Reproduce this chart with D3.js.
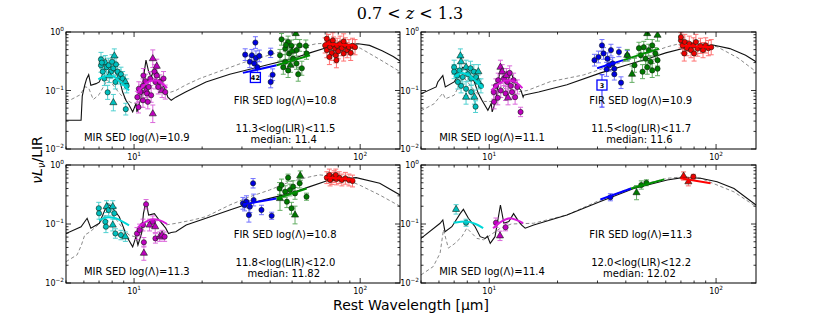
<!DOCTYPE html>
<html><head><meta charset="utf-8">
<script src="https://cdn.jsdelivr.net/npm/d3@7"></script>
<style>body{margin:0;background:#fff}svg{display:block}</style>
</head><body>
<svg id="c" width="822" height="319"></svg>
<script>
// ---------------- DATA ----------------
const xDomain = [5, 150];
const yDomain = [0.01, 1];
const xMajor = [10, 100];
const xMinor = [5,6,7,8,9,20,30,40,50,60,70,80,90];
const yMajor = [0.01, 0.1, 1];
const yMinor = [0.02,0.03,0.04,0.05,0.06,0.07,0.08,0.09,0.2,0.3,0.4,0.5,0.6,0.7,0.8,0.9];
const xTickExp = ["1","2"];
const yTickExp = ["-2","-1","0"];

const title = "0.7 < z < 1.3";
const mirLambda = ["10.9","11.1","11.3","11.4"];
const firLambda = ["10.8","10.9","10.8","11.3"];
const lirRange = ["11.3<log(LIR)<11.5","11.5<log(LIR)<11.7","11.8<log(LIR)<12.0","12.0<log(LIR)<12.2"];
const lirMedian = ["11.4","11.6","11.82","12.02"];

// templates [lambda, nuLnu/LIR]
const solid_A = [[5.0,0.031],[5.83,0.031],[5.9,0.08],[6.05,0.123],[6.17,0.159],[6.3,0.186],[6.44,0.123],[6.79,0.131],[7.02,0.14],[7.3,0.2],[7.64,0.27],[8.0,0.24],[8.3,0.2],[8.6,0.159],[8.9,0.094],[9.2,0.068],[9.52,0.056],[9.86,0.043],[10.2,0.06],[10.3,0.043],[10.7,0.072],[11.1,0.21],[11.29,0.33],[11.6,0.21],[11.9,0.17],[12.3,0.236],[12.7,0.2],[13.2,0.14],[13.8,0.10],[14.1,0.077],[14.6,0.068],[15.3,0.077],[16.9,0.094],[20.8,0.14],[26.5,0.19],[32.5,0.23],[39.8,0.28],[48.9,0.34],[59.9,0.44],[72,0.55],[85,0.61],[98,0.63],[110,0.59],[125,0.48],[140,0.38],[150,0.32]];
const dashed_A = [[5.0,0.063],[5.76,0.084],[6.08,0.116],[6.3,0.11],[6.6,0.07],[7.0,0.085],[7.6,0.15],[8.0,0.13],[8.6,0.09],[9.2,0.07],[9.7,0.062],[10.3,0.06],[10.8,0.07],[11.3,0.13],[11.8,0.11],[12.6,0.14],[13.3,0.1],[13.8,0.088],[15.3,0.1],[16.9,0.124],[19.5,0.16],[30.4,0.30],[45.5,0.47],[64,0.63],[81,0.66],[100,0.53],[122,0.34],[150,0.21]];
const solid_B = [[5.0,0.088],[5.83,0.115],[5.93,0.14],[6.24,0.18],[6.4,0.115],[7.0,0.14],[7.64,0.25],[8.0,0.22],[8.6,0.14],[8.9,0.094],[9.2,0.072],[9.86,0.046],[10.2,0.06],[10.3,0.043],[10.7,0.068],[11.0,0.16],[11.29,0.27],[11.6,0.16],[12.0,0.14],[12.5,0.2],[13.0,0.13],[13.8,0.10],[14.1,0.077],[14.2,0.083],[14.8,0.086],[16.5,0.094],[22,0.125],[31,0.2],[40,0.27],[50,0.35],[60,0.44],[75,0.55],[97,0.60],[115,0.52],[135,0.40],[150,0.31]];
const dashed_B = [[5.0,0.045],[5.7,0.059],[6.13,0.083],[6.25,0.09],[6.4,0.072],[7.0,0.083],[7.7,0.17],[8.6,0.1],[9.5,0.065],[10.5,0.065],[11.3,0.12],[12.0,0.1],[12.7,0.13],[13.5,0.095],[14.7,0.10],[18.6,0.142],[26.0,0.184],[43.3,0.355],[61.1,0.56],[71.9,0.66],[101,0.56],[125,0.36],[150,0.21]];
const solid_C = [[5.0,0.069],[5.83,0.09],[6.2,0.125],[6.44,0.085],[7.02,0.103],[7.64,0.224],[8.0,0.19],[8.6,0.133],[9.0,0.085],[9.2,0.065],[9.86,0.041],[10.2,0.061],[10.4,0.044],[10.8,0.07],[11.0,0.15],[11.29,0.24],[11.6,0.142],[12.3,0.15],[12.9,0.117],[13.8,0.085],[14.2,0.069],[14.6,0.072],[15.3,0.074],[17.0,0.096],[20.8,0.125],[26.5,0.173],[32.5,0.224],[39.8,0.272],[48.9,0.33],[59.9,0.43],[73,0.557],[96,0.61],[122,0.49],[150,0.31]];
const dashed_C = [[5.0,0.023],[5.6,0.03],[5.85,0.044],[6.05,0.065],[6.4,0.074],[7.0,0.1],[7.64,0.16],[8.2,0.13],[8.8,0.09],[9.5,0.065],[10.2,0.06],[10.8,0.07],[11.3,0.11],[12.0,0.1],[12.7,0.12],[13.3,0.1],[13.74,0.096],[15.4,0.103],[18.2,0.117],[20.8,0.133],[26.5,0.21],[32.5,0.29],[39.8,0.377],[48.9,0.52],[59.9,0.63],[66,0.68],[81,0.63],[99,0.46],[122,0.31],[150,0.2]];
const solid_D = [[5.0,0.057],[6.07,0.103],[6.24,0.117],[6.38,0.074],[6.84,0.09],[7.44,0.15],[7.69,0.177],[8.09,0.125],[8.66,0.09],[9.12,0.061],[9.6,0.057],[9.82,0.062],[10.1,0.047],[10.6,0.061],[11.2,0.21],[11.6,0.103],[12.2,0.11],[12.8,0.15],[13.5,0.11],[13.9,0.096],[14.4,0.085],[15.7,0.096],[22.0,0.142],[30.9,0.24],[43.4,0.40],[60.9,0.557],[72.1,0.617],[85.5,0.595],[101,0.52],[120,0.40],[150,0.21]];
const dashed_D = [[5.0,0.0137],[5.66,0.019],[6.07,0.032],[6.28,0.08],[6.6,0.039],[7.06,0.047],[7.57,0.061],[7.96,0.085],[8.82,0.057],[9.43,0.054],[11.2,0.085],[12.5,0.1],[15.7,0.103],[22.0,0.142],[30.9,0.255],[43.4,0.43],[60.9,0.595],[72.1,0.63],[85.5,0.595],[120,0.35],[150,0.197]];

// fitted segments
const cyanFit_A = [[6.95,0.155],[7.5,0.175],[8.0,0.175],[8.6,0.145],[9.2,0.115],[9.5,0.1]];
const magentaFit_A = [[10.3,0.09],[11.0,0.12],[11.8,0.145],[12.5,0.15],[13.2,0.135],[14.0,0.11]];
const blueFit_A = [[30.3,0.20],[42.7,0.27]];
const greenFit_A = [[42.7,0.27],[60,0.40]];
const redFit_A = [[69.7,0.63],[94.6,0.59]];
const cyanFit_B = [[7.0,0.17],[7.6,0.2],[8.2,0.18],[8.8,0.14],[9.4,0.11]];
const magentaFit_B = [[10.2,0.1],[11.0,0.13],[12.0,0.15],[13.0,0.14],[14.0,0.11]];
const blueFit_B = [[29.9,0.24],[39,0.33]];
const greenFit_B = [[39,0.33],[56,0.52]];
const redFit_B = [[69.8,0.59],[94.6,0.55]];
const cyanFit_C = [[7.0,0.115],[7.7,0.13],[8.3,0.125],[8.9,0.11],[9.5,0.095]];
const magentaFit_C = [[10.4,0.088],[11.3,0.11],[12.2,0.12],[13.0,0.115],[14.0,0.1]];
const blueFit_C = [[30.5,0.215],[42.7,0.27]];
const greenFit_C = [[42.7,0.27],[58,0.40]];
const redFit_C = [[69.7,0.62],[94.6,0.56]];
const cyanFit_D = [[6.96,0.105],[7.9,0.11],[8.7,0.1],[9.4,0.085]];
const magentaFit_D = [[10.4,0.085],[11.3,0.11],[12.4,0.125],[13.3,0.115],[14.1,0.103]];
const blueFit_D = [[30.9,0.26],[42.2,0.40]];
const greenFit_D = [[42.2,0.40],[59,0.57]];
const redFit_D = [[69.6,0.595],[94.6,0.49]];

// points [lambda, value, error (dex), marker]
const cyan_A = [[7.14,0.34,0.12,'o'],[7.14,0.27,0.12,'o'],[7.27,0.21,0.12,'o'],[7.46,0.30,0.12,'^'],[7.56,0.25,0.12,'o'],[7.72,0.27,0.12,'o'],[8.18,0.39,0.12,'^'],[7.9,0.21,0.12,'o'],[8.1,0.24,0.12,'o'],[8.32,0.28,0.12,'o'],[8.46,0.21,0.12,'o'],[8.6,0.17,0.12,'^'],[8.75,0.19,0.12,'o'],[8.9,0.16,0.12,'o'],[9.15,0.14,0.12,'^'],[9.28,0.12,0.12,'o'],[7.64,0.093,0.12,'o'],[8.1,0.062,0.14,'^'],[9.19,0.048,0.1,'o'],[7.39,0.16,0.12,'o'],[7.77,0.18,0.12,'^'],[8.27,0.14,0.12,'o'],[7.99,0.31,0.12,'o'],[7.2,0.30,0.1,'o']];
const magenta_A = [[10.34,0.077,0.1,'o'],[10.5,0.107,0.12,'o'],[10.7,0.094,0.12,'o'],[10.95,0.12,0.12,'o'],[11.24,0.144,0.12,'o'],[11.3,0.10,0.12,'^'],[11.4,0.089,0.12,'o'],[11.6,0.115,0.12,'o'],[11.8,0.16,0.12,'o'],[12.1,0.35,0.15,'^'],[12.3,0.21,0.12,'o'],[12.43,0.14,0.12,'o'],[12.6,0.18,0.12,'o'],[12.8,0.115,0.12,'o'],[13.0,0.14,0.12,'o'],[13.3,0.10,0.12,'^'],[13.5,0.16,0.12,'o'],[13.74,0.094,0.12,'o'],[11.5,0.064,0.12,'o'],[12.1,0.040,0.15,'^'],[10.46,0.052,0.1,'o'],[10.95,0.068,0.12,'o'],[11.9,0.083,0.12,'o'],[12.6,0.26,0.12,'^'],[11.0,0.18,0.12,'o']];
const blue_A = [[31.0,0.41,0.1,'o'],[34.4,0.66,0.1,'o'],[33.2,0.40,0.1,'o'],[34.6,0.36,0.12,'o'],[32.5,0.31,0.1,'o'],[34.0,0.29,0.1,'o'],[35.8,0.39,0.1,'o'],[35.1,0.25,0.1,'o'],[40.2,0.44,0.08,'o'],[41.0,0.186,0.1,'o'],[40.2,0.14,0.1,'o']];
const green_A = [[44.9,0.75,0.1,'o'],[48,0.675,0.1,'o'],[51.9,0.94,0.1,'^'],[49.7,0.58,0.1,'o'],[52.3,0.49,0.1,'o'],[46.6,0.52,0.1,'o'],[44.2,0.40,0.1,'o'],[48.5,0.43,0.1,'o'],[54,0.59,0.1,'o'],[57.5,0.58,0.1,'o'],[50.5,0.35,0.12,'o'],[46.6,0.31,0.12,'o'],[49.2,0.27,0.12,'^'],[52.3,0.29,0.1,'o'],[48,0.22,0.12,'o'],[53.2,0.19,0.12,'o'],[57.9,0.43,0.1,'o'],[55.2,0.24,0.12,'o'],[45.7,0.25,0.12,'o'],[47,0.6,0.1,'o'],[50,0.47,0.1,'^']];
const red_A = [[70.0,0.59,0.13,'o'],[71.2,0.49,0.13,'o'],[72.4,0.675,0.13,'o'],[73.6,0.55,0.13,'o'],[74.9,0.44,0.13,'o'],[76.2,0.61,0.13,'o'],[77.5,0.52,0.13,'o'],[78.0,0.40,0.13,'o'],[79.1,0.58,0.13,'o'],[80.0,0.47,0.13,'o'],[81.5,0.63,0.13,'o'],[83.0,0.53,0.13,'o'],[84.5,0.43,0.13,'o'],[86.0,0.59,0.13,'o'],[87.6,0.49,0.13,'o'],[89.2,0.55,0.13,'o'],[90.8,0.44,0.13,'o'],[92.5,0.58,0.13,'o'],[94.9,0.55,0.13,'o'],[73.1,0.374,0.13,'o'],[78.5,0.33,0.13,'o'],[75.7,0.72,0.13,'o'],[84.5,0.69,0.13,'o'],[71.2,0.77,0.13,'o']];
const cyan_B = [[7.46,0.39,0.12,'^'],[7.51,0.31,0.12,'^'],[7.0,0.25,0.12,'o'],[7.0,0.21,0.12,'o'],[7.22,0.18,0.12,'o'],[7.39,0.22,0.12,'o'],[7.64,0.17,0.12,'o'],[7.9,0.25,0.12,'^'],[8.05,0.19,0.12,'o'],[8.27,0.24,0.12,'o'],[8.32,0.16,0.12,'o'],[8.55,0.21,0.12,'o'],[8.75,0.17,0.12,'o'],[8.95,0.14,0.12,'^'],[7.51,0.12,0.12,'o'],[7.9,0.107,0.12,'o'],[8.32,0.094,0.12,'o'],[8.6,0.077,0.12,'^'],[7.9,0.077,0.12,'^'],[8.7,0.053,0.1,'o'],[7.27,0.14,0.12,'o'],[8.95,0.21,0.12,'^'],[9.19,0.12,0.12,'o']];
const magenta_B = [[11.2,0.25,0.12,'^'],[11.4,0.21,0.12,'^'],[10.7,0.12,0.12,'o'],[10.95,0.15,0.12,'o'],[11.6,0.16,0.12,'o'],[12.0,0.14,0.12,'o'],[12.43,0.12,0.12,'o'],[12.8,0.15,0.12,'o'],[13.3,0.115,0.12,'o'],[11.24,0.10,0.12,'o'],[10.46,0.094,0.12,'o'],[11.8,0.089,0.12,'o'],[12.6,0.094,0.12,'o'],[10.9,0.075,0.12,'o'],[12.1,0.075,0.12,'^'],[10.5,0.064,0.12,'o'],[13.74,0.043,0.08,'o'],[13.0,0.077,0.12,'o'],[11.9,0.18,0.12,'^'],[12.3,0.2,0.12,'o']];
const blue_B = [[31.4,0.59,0.1,'o'],[30.3,0.374,0.1,'o'],[29.1,0.33,0.1,'o'],[31.9,0.43,0.1,'o'],[33.2,0.35,0.1,'o'],[34.4,0.49,0.1,'o'],[35.0,0.29,0.1,'o'],[35.6,0.236,0.1,'o'],[35.6,0.19,0.1,'o'],[37.3,0.455,0.08,'o'],[38.1,0.136,0.1,'o'],[40.6,0.40,0.08,'o'],[33.8,0.27,0.1,'o'],[32.9,0.23,0.12,'o']];
const green_B = [[49.7,0.94,0.1,'^'],[55.2,0.88,0.1,'^'],[45.7,0.53,0.1,'o'],[48,0.55,0.1,'o'],[50.5,0.49,0.1,'o'],[52.3,0.59,0.1,'o'],[54,0.43,0.1,'o'],[46.6,0.40,0.1,'o'],[48.9,0.35,0.1,'o'],[51.5,0.31,0.1,'o'],[55.2,0.33,0.1,'o'],[40.6,0.40,0.1,'^'],[43.7,0.27,0.12,'o'],[49.7,0.25,0.12,'o'],[52.3,0.22,0.12,'o'],[47.4,0.21,0.12,'o'],[55.2,0.236,0.12,'o'],[42.6,0.19,0.14,'^']];
const red_B = [[70.0,0.72,0.13,'o'],[71.2,0.59,0.13,'o'],[72.8,0.675,0.13,'o'],[74.4,0.53,0.13,'o'],[76.2,0.63,0.13,'o'],[77.5,0.49,0.13,'o'],[79.4,0.59,0.13,'o'],[81.5,0.675,0.13,'o'],[83.0,0.52,0.13,'o'],[85.4,0.58,0.13,'o'],[87.6,0.49,0.13,'o'],[90.0,0.59,0.13,'o'],[92.5,0.53,0.13,'o'],[95.2,0.55,0.13,'o'],[72.4,0.43,0.13,'o'],[80.0,0.43,0.13,'o'],[70.0,0.82,0.13,'o']];
const cyan_C = [[6.98,0.185,0.1,'o'],[7.0,0.152,0.1,'o'],[7.56,0.197,0.1,'^'],[7.72,0.173,0.1,'o'],[8.05,0.197,0.1,'^'],[8.18,0.152,0.1,'o'],[7.46,0.109,0.1,'o'],[8.05,0.096,0.1,'^'],[8.27,0.069,0.08,'o'],[8.75,0.065,0.08,'o'],[9.15,0.061,0.08,'^'],[7.51,0.09,0.1,'o']];
const magenta_C = [[11.3,0.216,0.08,'o'],[10.3,0.069,0.1,'o'],[10.58,0.079,0.1,'o'],[10.95,0.096,0.1,'o'],[11.7,0.096,0.1,'^'],[12.1,0.109,0.1,'o'],[12.4,0.09,0.1,'^'],[11.05,0.049,0.08,'o'],[11.05,0.032,0.12,'^'],[12.43,0.057,0.08,'o'],[12.98,0.061,0.08,'^'],[13.3,0.065,0.08,'^'],[13.65,0.061,0.08,'o']];
const blue_C = [[33.6,0.49,0.08,'o'],[30.3,0.224,0.1,'o'],[31.4,0.239,0.1,'o'],[33.8,0.255,0.1,'o'],[32.5,0.197,0.1,'o'],[32.2,0.142,0.12,'o'],[36.6,0.173,0.08,'o'],[40.6,0.138,0.06,'o'],[30.8,0.21,0.1,'o']];
const green_C = [[48.0,0.61,0.06,'o'],[54.3,0.66,0.08,'^'],[44.0,0.40,0.1,'o'],[44.9,0.458,0.1,'o'],[48.9,0.377,0.1,'o'],[46.6,0.353,0.1,'o'],[50.5,0.43,0.1,'o'],[51.5,0.33,0.1,'o'],[47.4,0.239,0.1,'o'],[44.2,0.27,0.2,'^'],[49.7,0.185,0.1,'o'],[51.5,0.142,0.15,'^'],[57.9,0.29,0.06,'o'],[54.0,0.49,0.08,'o']];
const red_C = [[71.2,0.61,0.1,'o'],[73.1,0.677,0.1,'o'],[74.9,0.59,0.1,'o'],[76.7,0.634,0.1,'o'],[78.5,0.58,0.1,'o'],[80.8,0.61,0.1,'o'],[83.0,0.557,0.1,'o'],[86.0,0.595,0.1,'o'],[89.2,0.557,0.1,'o'],[92.5,0.535,0.1,'o'],[73.6,0.557,0.1,'o'],[78,0.677,0.1,'o']];
const cyan_D = [[7.14,0.177,0.08,'^'],[7.9,0.105,0.06,'o']];
const magenta_D = [[11.15,0.063,0.08,'^'],[11.8,0.088,0.06,'o'],[10.7,0.105,0.08,'o']];
const blue_D = [[34.2,0.284,0.06,'o']];
const green_D = [[44.6,0.34,0.12,'^'],[46.8,0.458,0.07,'o'],[49.3,0.50,0.05,'o']];
const red_D = [[71.9,0.65,0.07,'^'],[79.4,0.634,0.04,'o'],[75.5,0.52,0.07,'^']];

// stacked boxes [panel index, lambda, value, label, lower, upper]
const stackBoxes = [[0,34.4,0.167,"42",null,null],[1,31.4,0.124,"3",0.052,0.186]];

// ---------------- DRAWING ----------------
const svg = d3.select("#c");
const layout = [
  {x0:66,x1:400,y0:32,y1:149},
  {x0:421,x1:756,y0:32,y1:149},
  {x0:66,x1:400,y0:165,y1:283},
  {x0:421,x1:756,y0:165,y1:283}
];
const colors = {
  cyan:{pt:"#00bfbf", fit:"#00d8d8", err:"#33c9c9"},
  magenta:{pt:"#bf00bf", fit:"#d81cd8", err:"#d650d6"},
  blue:{pt:"#0000e0", fit:"#0000ff", err:"#5a5aff"},
  green:{pt:"#007a00", fit:"#009000", err:"#4aa04a"},
  red:{pt:"#ee0000", fit:"#ff0000", err:"#ff5a5a"}
};
const panels = [
  {solid:solid_A, dashed:dashed_A, fits:{cyan:cyanFit_A,magenta:magentaFit_A,blue:blueFit_A,green:greenFit_A,red:redFit_A}, pts:{cyan:cyan_A,magenta:magenta_A,blue:blue_A,green:green_A,red:red_A}},
  {solid:solid_B, dashed:dashed_B, fits:{cyan:cyanFit_B,magenta:magentaFit_B,blue:blueFit_B,green:greenFit_B,red:redFit_B}, pts:{cyan:cyan_B,magenta:magenta_B,blue:blue_B,green:green_B,red:red_B}},
  {solid:solid_C, dashed:dashed_C, fits:{cyan:cyanFit_C,magenta:magentaFit_C,blue:blueFit_C,green:greenFit_C,red:redFit_C}, pts:{cyan:cyan_C,magenta:magenta_C,blue:blue_C,green:green_C,red:red_C}},
  {solid:solid_D, dashed:dashed_D, fits:{cyan:cyanFit_D,magenta:magentaFit_D,blue:blueFit_D,green:greenFit_D,red:redFit_D}, pts:{cyan:cyan_D,magenta:magenta_D,blue:blue_D,green:green_D,red:red_D}}
];
const FONT = "'DejaVu Sans', 'Bitstream Vera Sans', sans-serif";

function powLabel(g, x, y, exp, anchor, size) {
  const t = g.append("text").attr("x", x).attr("y", y)
    .attr("text-anchor", anchor).attr("font-family", FONT)
    .attr("font-size", size).attr("fill", "#000");
  t.append("tspan").text("10");
  t.append("tspan").attr("dy", -size*0.45).attr("font-size", size*0.72).text(exp.replace("-", "\u2212"));
  return t;
}

panels.forEach((p, i) => {
  const L = layout[i];
  const x = d3.scaleLog().domain(xDomain).range([L.x0, L.x1]);
  const y = d3.scaleLog().domain(yDomain).range([L.y1, L.y0]);
  const g = svg.append("g");
  const cid = "clip" + i;
  svg.append("defs").append("clipPath").attr("id", cid)
    .append("rect").attr("x", L.x0).attr("y", L.y0).attr("width", L.x1-L.x0).attr("height", L.y1-L.y0);
  const pg = g.append("g").attr("clip-path", `url(#${cid})`);
  const line = d3.line().x(d => x(d[0])).y(d => y(d[1]));
  const smooth = d3.line().x(d => x(d[0])).y(d => y(d[1])).curve(d3.curveMonotoneX);

  pg.append("path").datum(p.dashed).attr("d", line).attr("fill", "none")
    .attr("stroke", "#8a8a8a").attr("stroke-width", 1).attr("stroke-dasharray", "3.5,2.5");
  pg.append("path").datum(p.solid).attr("d", line).attr("fill", "none")
    .attr("stroke", "#111").attr("stroke-width", 1.1);

  // points with error bars
  Object.keys(p.pts).forEach(k => {
    const c = colors[k];
    const data = p.pts[k];
    const eb = pg.append("g").attr("stroke", c.err).attr("stroke-width", 1).attr("opacity", 0.85);
    data.forEach(d => {
      const px = x(d[0]);
      const lo = y(d[1] / Math.pow(10, d[2])), hi = y(d[1] * Math.pow(10, d[2]));
      eb.append("line").attr("x1", px).attr("x2", px).attr("y1", lo).attr("y2", hi);
      eb.append("line").attr("x1", px-2.5).attr("x2", px+2.5).attr("y1", lo).attr("y2", lo);
      eb.append("line").attr("x1", px-2.5).attr("x2", px+2.5).attr("y1", hi).attr("y2", hi);
    });
    const mk = pg.append("g");
    data.forEach(d => {
      const px = x(d[0]), py = y(d[1]);
      if (d[3] === '^') {
        mk.append("path").attr("d", d3.symbol(d3.symbolTriangle, 22)())
          .attr("transform", `translate(${px},${py})`)
          .attr("fill", c.pt).attr("stroke", "#102010").attr("stroke-width", 0.6);
      } else {
        mk.append("circle").attr("cx", px).attr("cy", py).attr("r", 2.6)
          .attr("fill", c.pt).attr("stroke", "#102010").attr("stroke-width", 0.6);
      }
    });
  });

  // fitted segments
  Object.keys(p.fits).forEach(k => {
    pg.append("path").datum(p.fits[k]).attr("d", smooth).attr("fill", "none")
      .attr("stroke", colors[k].fit).attr("stroke-width", 2);
  });

  // stacked boxes
  stackBoxes.filter(b => b[0] === i).forEach(b => {
    const bx = x(b[1]), by = y(b[2]);
    if (b[4] !== null) {
      const lo = y(b[4]), hi = y(b[5]);
      g.append("line").attr("x1", bx).attr("x2", bx).attr("y1", lo).attr("y2", hi).attr("stroke", "#2a2aff").attr("stroke-width", 1);
      [lo, hi].forEach(v => g.append("line").attr("x1", bx-2.5).attr("x2", bx+2.5).attr("y1", v).attr("y2", v).attr("stroke", "#2a2aff").attr("stroke-width", 1));
    }
    g.append("rect").attr("x", bx-5).attr("y", by-5).attr("width", 10).attr("height", 10)
      .attr("fill", "#fff").attr("stroke", "#0000ff").attr("stroke-width", 1.3);
    g.append("text").attr("x", bx).attr("y", by+2.5).attr("text-anchor", "middle")
      .attr("font-family", FONT).attr("font-size", 6.5).attr("font-weight", "bold").text(b[3]);
  });

  // frame
  g.append("rect").attr("x", L.x0).attr("y", L.y0).attr("width", L.x1-L.x0).attr("height", L.y1-L.y0)
    .attr("fill", "none").attr("stroke", "#000").attr("stroke-width", 1);

  // ticks
  const tg = g.append("g").attr("stroke", "#000").attr("stroke-width", 0.8);
  xMajor.forEach(v => { const px = x(v);
    tg.append("line").attr("x1", px).attr("x2", px).attr("y1", L.y1).attr("y2", L.y1-5);
    tg.append("line").attr("x1", px).attr("x2", px).attr("y1", L.y0).attr("y2", L.y0+5); });
  xMinor.forEach(v => { const px = x(v);
    tg.append("line").attr("x1", px).attr("x2", px).attr("y1", L.y1).attr("y2", L.y1-2.5);
    tg.append("line").attr("x1", px).attr("x2", px).attr("y1", L.y0).attr("y2", L.y0+2.5); });
  yMajor.forEach(v => { const py = y(v);
    tg.append("line").attr("x1", L.x0).attr("x2", L.x0+5).attr("y1", py).attr("y2", py);
    tg.append("line").attr("x1", L.x1).attr("x2", L.x1-5).attr("y1", py).attr("y2", py); });
  yMinor.forEach(v => { const py = y(v);
    tg.append("line").attr("x1", L.x0).attr("x2", L.x0+2.5).attr("y1", py).attr("y2", py);
    tg.append("line").attr("x1", L.x1).attr("x2", L.x1-2.5).attr("y1", py).attr("y2", py); });

  // tick labels
  xMajor.forEach((v, j) => powLabel(g, x(v), L.y1 + 11, xTickExp[j], "middle", 8));
  yMajor.forEach((v, j) => powLabel(g, L.x0 - 2, y(v) + 3, yTickExp[j], "end", 8));

  // annotations
  const W = L.x1 - L.x0;
  const txt = (s, fx, yy) => g.append("text").attr("x", L.x0 + fx*W).attr("y", yy)
    .attr("text-anchor", "middle").attr("font-family", FONT).attr("font-size", 10).attr("fill", "#000").text(s);
  txt(`MIR SED log(\u039B)=${mirLambda[i]}`, 0.212, L.y1 - 8.5);
  txt(`FIR SED log(\u039B)=${firLambda[i]}`, 0.656, L.y1 - 45);
  txt(lirRange[i], 0.657, L.y1 - 17.5);
  txt(`median: ${lirMedian[i]}`, 0.652, L.y1 - 6.5);
});

// title
const tt = svg.append("text").attr("x", 410).attr("y", 19).attr("text-anchor", "middle")
  .attr("font-family", "'DejaVu Serif', 'Liberation Serif', serif").attr("font-size", 16);
const parts = title.split("z");
tt.append("tspan").text(parts[0]);
tt.append("tspan").attr("font-style", "italic").text("z");
tt.append("tspan").text(parts[1]);

// axis labels
svg.append("text").attr("x", 411).attr("y", 310).attr("text-anchor", "middle")
  .attr("font-family", FONT).attr("font-size", 14).text("Rest Wavelength [\u03BCm]");
const yl = svg.append("text").attr("transform", "translate(42,160) rotate(-90)")
  .attr("text-anchor", "middle").attr("font-family", FONT).attr("font-size", 14);
yl.append("tspan").attr("font-style", "italic").text("\u03BDL");
yl.append("tspan").attr("font-style", "italic").attr("font-size", 10).attr("dy", 3).text("\u03BD");
yl.append("tspan").attr("dy", -3).text("/LIR");
</script>
</body></html>
